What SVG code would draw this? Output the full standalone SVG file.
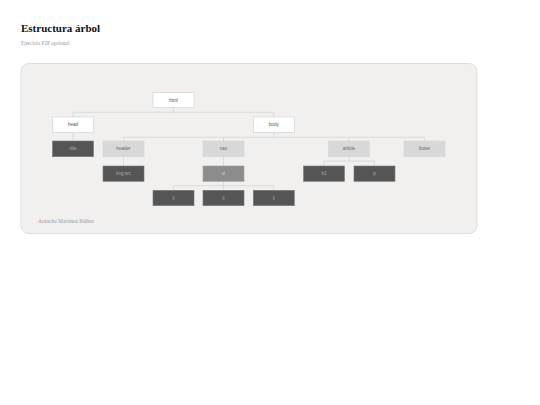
<svg xmlns="http://www.w3.org/2000/svg" width="540" height="405" viewBox="0 0 540 405">
<style>
.t{font-family:"Liberation Sans",Arial,sans-serif;font-size:4.6px;text-anchor:middle}
.w rect{fill:#ffffff;stroke:#cfcfcf;stroke-width:0.6}
.w text{fill:#555}
.g rect{fill:#d8d8d8;stroke:#d8d8d8;stroke-width:0.6}
.g text{fill:#666}
.d rect{fill:#555555;stroke:#7a7a7a;stroke-width:0.6}
.d text{fill:#b0b0b0}
.m rect{fill:#8c8c8c;stroke:#a0a0a0;stroke-width:0.6}
.m text{fill:#d0d0d0}
.c{fill:none;stroke:#cccccc;stroke-width:0.6}
.s{font-family:"Liberation Serif","Times New Roman",serif}
</style>
<rect width="540" height="405" fill="#ffffff"/>
<text class="s" x="21" y="31.5" font-weight="bold" font-size="11" fill="#111">Estructura árbol</text>
<text class="s" x="21" y="45" font-size="5.3" fill="#999">Ejercicio P2P opcional</text>
<rect x="21" y="63.5" width="456" height="170" rx="8" fill="#f1f0ef" stroke="#dddddd" stroke-width="1"/>
<text class="s" x="38" y="223" font-size="5.5" fill="#999">Arancha Martínez Ibáñez</text>
<g id="connectors" class="c">
<path d="M173.5 107.3V112.3M73 112.3H273.8M73 112.3V117M273.8 112.3V117"/>
<path d="M73 132.3V141"/>
<path d="M273.8 132.3V137.3M123.5 137.3H424.5M123.5 137.3V141M223.5 137.3V141M349 137.3V141M424.5 137.3V141"/>
<path d="M123.5 156.7V166"/>
<path d="M223.5 156.7V166"/>
<path d="M349 156.7V161M324 161H374.5M324 161V166M374.5 161V166"/>
<path d="M223.5 181.3V185.7M173.5 185.7H273.8M173.5 185.7V190.3M223.5 185.7V190.3M273.8 185.7V190.3"/>
</g>
<g id="html" class="w t"><rect x="153" y="92.3" width="41" height="15"/><text x="173.5" y="101.5">html</text></g>
<g id="head" class="w t"><rect x="52.5" y="117" width="41" height="15.3"/><text x="73" y="126.3">head</text></g>
<g id="body" class="w t"><rect x="253.3" y="117" width="41" height="15.3"/><text x="273.8" y="126.3">body</text></g>
<g id="title" class="d t"><rect x="52.5" y="141" width="41" height="15.7"/><text x="73" y="150.4">title</text></g>
<g id="header" class="g t"><rect x="103" y="141" width="41" height="15.7"/><text x="123.5" y="150.4">header</text></g>
<g id="nav" class="g t"><rect x="203" y="141" width="41" height="15.7"/><text x="223.5" y="150.4">nav</text></g>
<g id="article" class="g t"><rect x="328.5" y="141" width="41" height="15.7"/><text x="349" y="150.4">article</text></g>
<g id="footer" class="g t"><rect x="404" y="141" width="41" height="15.7"/><text x="424.5" y="150.4">footer</text></g>
<g id="imgsrc" class="d t"><rect x="103" y="166" width="41" height="15.3"/><text x="123.5" y="175.3">img src</text></g>
<g id="ul" class="m t"><rect x="203" y="166" width="41" height="15.3"/><text x="223.5" y="175.3">ul</text></g>
<g id="h1" class="d t"><rect x="303.5" y="166" width="41" height="15.3"/><text x="324" y="175.3">h1</text></g>
<g id="p" class="d t"><rect x="354" y="166" width="41" height="15.3"/><text x="374.5" y="175.3">p</text></g>
<g id="li1" class="d t"><rect x="153" y="190.3" width="41" height="15.4"/><text x="173.5" y="199.6">li</text></g>
<g id="li2" class="d t"><rect x="203" y="190.3" width="41" height="15.4"/><text x="223.5" y="199.6">li</text></g>
<g id="li3" class="d t"><rect x="253.3" y="190.3" width="41" height="15.4"/><text x="273.8" y="199.6">li</text></g>
</svg>
